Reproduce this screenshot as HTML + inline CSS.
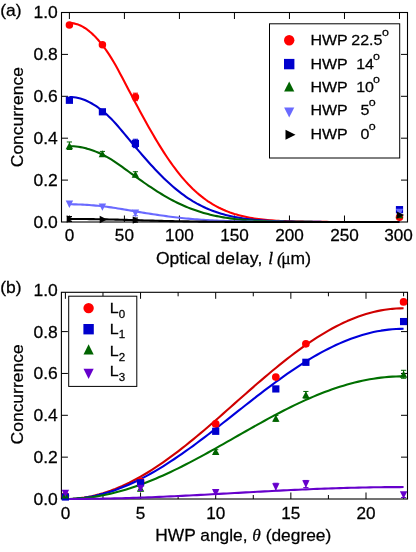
<!DOCTYPE html>
<html lang="en"><head><meta charset="utf-8"><title>Concurrence plots</title>
<style>
html,body{margin:0;padding:0;background:#fff;}
body{width:416px;height:552px;overflow:hidden;}
svg{display:block;}
text{font-family:"Liberation Sans", Arial, Helvetica, sans-serif;font-size:16.5px;fill:#000;stroke:#000;stroke-width:0.25px;}
.lg{font-size:15.1px;}
.it{font-family:"Liberation Serif", "Times New Roman", serif;font-style:italic;}
.sym{font-family:"Liberation Serif", "Times New Roman", serif;}
.sup{font-size:11.8px;}
.sub{font-size:10.9px;}
.ax{stroke:#000;stroke-width:1.1;fill:none;}
.tk{stroke:#000;stroke-width:1;fill:none;}
.cv{fill:none;stroke-width:2.1;stroke-linecap:butt;stroke-linejoin:round;}
.eb{stroke-width:1;fill:none;}
</style></head><body>
<svg width="416" height="552" viewBox="0 0 416 552">
<rect x="0" y="0" width="416" height="552" fill="#fff"/>

<g id="plot-a">
<path class="tk" d="M69.40,222.0v-6.5M69.40,12.5v6.5M124.42,222.0v-6.5M124.42,12.5v6.5M179.43,222.0v-6.5M179.43,12.5v6.5M234.45,222.0v-6.5M234.45,12.5v6.5M289.46,222.0v-6.5M289.46,12.5v6.5M344.48,222.0v-6.5M344.48,12.5v6.5M399.49,222.0v-6.5M399.49,12.5v6.5M61.5,180.10h6.5M407.5,180.10h-6.5M61.5,138.20h6.5M407.5,138.20h-6.5M61.5,96.30h6.5M407.5,96.30h-6.5M61.5,54.40h6.5M407.5,54.40h-6.5"/>
<rect class="ax" x="61.5" y="12.5" width="346.0" height="209.5"/>
<polyline class="cv" stroke="#ff0000" points="69.40,22.98 71.60,23.08 73.80,23.39 76.00,23.90 78.20,24.62 80.40,25.55 82.60,26.67 84.80,27.98 87.00,29.49 89.21,31.19 91.41,33.07 93.61,35.13 95.81,37.36 98.01,39.77 100.21,42.34 102.41,45.09 104.61,48.00 106.81,51.10 109.01,54.37 111.21,57.84 113.41,61.49 115.61,65.32 117.81,69.30 120.01,73.40 122.21,77.56 124.42,81.76 126.62,85.97 128.82,90.17 131.02,94.35 133.22,98.52 135.42,102.67 137.62,106.80 139.82,110.89 142.02,114.96 144.22,118.98 146.42,122.97 148.62,126.90 150.82,130.78 153.02,134.60 155.22,138.36 157.42,142.04 159.62,145.65 161.83,149.18 164.03,152.63 166.23,155.98 168.43,159.25 170.63,162.42 172.83,165.50 175.03,168.47 177.23,171.35 179.43,174.13 181.63,176.81 183.83,179.39 186.03,181.86 188.23,184.24 190.43,186.51 192.63,188.69 194.83,190.77 197.03,192.75 199.24,194.64 201.44,196.43 203.64,198.13 205.84,199.75 208.04,201.28 210.24,202.73 212.44,204.09 214.64,205.38 216.84,206.59 219.04,207.74 221.24,208.81 223.44,209.81 225.64,210.75 227.84,211.63 230.04,212.46 232.24,213.22 234.45,213.94 236.65,214.60 238.85,215.22 241.05,215.79 243.25,216.33 245.45,216.82 247.65,217.27 249.85,217.69 252.05,218.08 254.25,218.43 256.45,218.76 258.65,219.06 260.85,219.34 263.05,219.59 265.25,219.82 267.45,220.03 269.65,220.23 271.86,220.40 274.06,220.56 276.26,220.71 278.46,220.84 280.66,220.96 282.86,221.07 285.06,221.17 287.26,221.25 289.46,221.33 291.66,221.41 293.86,221.47 296.06,221.53 298.26,221.58 300.46,221.63 302.66,221.67 304.86,221.71 307.06,221.74 309.27,221.77 311.47,221.80 313.67,221.82 315.87,221.84 318.07,221.86 320.27,221.88 322.47,221.89 324.67,221.91 326.87,221.92 329.07,221.93 331.27,221.94 333.47,221.95 335.67,221.95 337.87,221.96 340.07,221.96 342.27,221.97 344.48,221.97 346.68,221.98 348.88,221.98 351.08,221.98 353.28,221.98 355.48,221.99 357.68,221.99 359.88,221.99 362.08,221.99 364.28,221.99 366.48,221.99 368.68,221.99 370.88,222.00 373.08,222.00 375.28,222.00 377.48,222.00 379.68,222.00 381.89,222.00 384.09,222.00 386.29,222.00 388.49,222.00 390.69,222.00 392.89,222.00 395.09,222.00 397.29,222.00 399.49,222.00"/>
<polyline class="cv" stroke="#0000cd" points="69.40,96.93 71.60,96.99 73.80,97.19 76.00,97.51 78.20,97.96 80.40,98.54 82.60,99.25 84.80,100.08 87.00,101.02 89.21,102.09 91.41,103.27 93.61,104.57 95.81,105.97 98.01,107.48 100.21,109.10 102.41,110.82 104.61,112.66 106.81,114.60 109.01,116.66 111.21,118.84 113.41,121.13 115.61,123.54 117.81,126.04 120.01,128.62 122.21,131.23 124.42,133.87 126.62,136.51 128.82,139.15 131.02,141.78 133.22,144.40 135.42,147.01 137.62,149.60 139.82,152.18 142.02,154.73 144.22,157.26 146.42,159.77 148.62,162.24 150.82,164.68 153.02,167.08 155.22,169.44 157.42,171.75 159.62,174.02 161.83,176.24 164.03,178.40 166.23,180.51 168.43,182.57 170.63,184.56 172.83,186.49 175.03,188.36 177.23,190.17 179.43,191.92 181.63,193.60 183.83,195.22 186.03,196.78 188.23,198.27 190.43,199.70 192.63,201.07 194.83,202.37 197.03,203.62 199.24,204.80 201.44,205.93 203.64,207.00 205.84,208.02 208.04,208.98 210.24,209.89 212.44,210.75 214.64,211.56 216.84,212.32 219.04,213.04 221.24,213.71 223.44,214.34 225.64,214.93 227.84,215.49 230.04,216.00 232.24,216.48 234.45,216.93 236.65,217.35 238.85,217.74 241.05,218.10 243.25,218.43 245.45,218.74 247.65,219.03 249.85,219.29 252.05,219.54 254.25,219.76 256.45,219.96 258.65,220.15 260.85,220.33 263.05,220.49 265.25,220.63 267.45,220.76 269.65,220.89 271.86,221.00 274.06,221.10 276.26,221.19 278.46,221.27 280.66,221.35 282.86,221.41 285.06,221.48 287.26,221.53 289.46,221.58 291.66,221.63 293.86,221.67 296.06,221.70 298.26,221.74 300.46,221.77 302.66,221.79 304.86,221.82 307.06,221.84 309.27,221.86 311.47,221.87 313.67,221.89 315.87,221.90 318.07,221.91 320.27,221.92 322.47,221.93 324.67,221.94 326.87,221.95 329.07,221.96 331.27,221.96 333.47,221.97 335.67,221.97 337.87,221.97 340.07,221.98 342.27,221.98 344.48,221.98 346.68,221.99 348.88,221.99 351.08,221.99 353.28,221.99 355.48,221.99 357.68,221.99 359.88,221.99 362.08,221.99 364.28,222.00 366.48,222.00 368.68,222.00 370.88,222.00 373.08,222.00 375.28,222.00 377.48,222.00 379.68,222.00 381.89,222.00 384.09,222.00 386.29,222.00 388.49,222.00 390.69,222.00 392.89,222.00 395.09,222.00 397.29,222.00 399.49,222.00"/>
<polyline class="cv" stroke="#006400" points="69.40,146.16 71.60,146.20 73.80,146.32 76.00,146.52 78.20,146.79 80.40,147.14 82.60,147.57 84.80,148.07 87.00,148.64 89.21,149.29 91.41,150.01 93.61,150.79 95.81,151.64 98.01,152.56 100.21,153.54 102.41,154.59 104.61,155.70 106.81,156.88 109.01,158.12 111.21,159.45 113.41,160.84 115.61,162.30 117.81,163.82 120.01,165.37 122.21,166.96 124.42,168.56 126.62,170.16 128.82,171.76 131.02,173.36 133.22,174.95 135.42,176.53 137.62,178.10 139.82,179.66 142.02,181.21 144.22,182.74 146.42,184.26 148.62,185.76 150.82,187.24 153.02,188.70 155.22,190.13 157.42,191.53 159.62,192.91 161.83,194.25 164.03,195.56 166.23,196.84 168.43,198.09 170.63,199.30 172.83,200.47 175.03,201.60 177.23,202.70 179.43,203.76 181.63,204.78 183.83,205.76 186.03,206.71 188.23,207.61 190.43,208.48 192.63,209.31 194.83,210.10 197.03,210.85 199.24,211.57 201.44,212.26 203.64,212.91 205.84,213.52 208.04,214.10 210.24,214.66 212.44,215.18 214.64,215.67 216.84,216.13 219.04,216.56 221.24,216.97 223.44,217.36 225.64,217.71 227.84,218.05 230.04,218.36 232.24,218.66 234.45,218.93 236.65,219.18 238.85,219.42 241.05,219.64 243.25,219.84 245.45,220.02 247.65,220.20 249.85,220.36 252.05,220.51 254.25,220.64 256.45,220.77 258.65,220.88 260.85,220.99 263.05,221.08 265.25,221.17 267.45,221.25 269.65,221.32 271.86,221.39 274.06,221.45 276.26,221.51 278.46,221.56 280.66,221.60 282.86,221.64 285.06,221.68 287.26,221.72 289.46,221.75 291.66,221.77 293.86,221.80 296.06,221.82 298.26,221.84 300.46,221.86 302.66,221.87 304.86,221.89 307.06,221.90 309.27,221.91 311.47,221.92 313.67,221.93 315.87,221.94 318.07,221.95 320.27,221.95 322.47,221.96 324.67,221.96 326.87,221.97 329.07,221.97 331.27,221.98 333.47,221.98 335.67,221.98 337.87,221.98 340.07,221.99 342.27,221.99 344.48,221.99 346.68,221.99 348.88,221.99 351.08,221.99 353.28,221.99 355.48,222.00 357.68,222.00 359.88,222.00 362.08,222.00 364.28,222.00 366.48,222.00 368.68,222.00 370.88,222.00 373.08,222.00 375.28,222.00 377.48,222.00 379.68,222.00 381.89,222.00 384.09,222.00 386.29,222.00 388.49,222.00 390.69,222.00 392.89,222.00 395.09,222.00 397.29,222.00 399.49,222.00"/>
<polyline class="cv" stroke="#6a6aff" points="69.40,204.30 71.60,204.31 73.80,204.33 76.00,204.38 78.20,204.44 80.40,204.53 82.60,204.63 84.80,204.74 87.00,204.88 89.21,205.03 91.41,205.20 93.61,205.38 95.81,205.58 98.01,205.79 100.21,206.02 102.41,206.26 104.61,206.52 106.81,206.80 109.01,207.09 111.21,207.40 113.41,207.72 115.61,208.06 117.81,208.42 120.01,208.78 122.21,209.15 124.42,209.53 126.62,209.90 128.82,210.27 131.02,210.65 133.22,211.02 135.42,211.39 137.62,211.75 139.82,212.12 142.02,212.48 144.22,212.84 146.42,213.19 148.62,213.54 150.82,213.89 153.02,214.23 155.22,214.56 157.42,214.89 159.62,215.21 161.83,215.52 164.03,215.83 166.23,216.13 168.43,216.42 170.63,216.70 172.83,216.97 175.03,217.24 177.23,217.50 179.43,217.74 181.63,217.98 183.83,218.21 186.03,218.43 188.23,218.64 190.43,218.84 192.63,219.04 194.83,219.22 197.03,219.40 199.24,219.57 201.44,219.73 203.64,219.88 205.84,220.02 208.04,220.16 210.24,220.29 212.44,220.41 214.64,220.52 216.84,220.63 219.04,220.73 221.24,220.83 223.44,220.92 225.64,221.00 227.84,221.08 230.04,221.15 232.24,221.22 234.45,221.28 236.65,221.34 238.85,221.40 241.05,221.45 243.25,221.50 245.45,221.54 247.65,221.58 249.85,221.62 252.05,221.65 254.25,221.68 256.45,221.71 258.65,221.74 260.85,221.76 263.05,221.79 265.25,221.81 267.45,221.83 269.65,221.84 271.86,221.86 274.06,221.87 276.26,221.88 278.46,221.90 280.66,221.91 282.86,221.92 285.06,221.93 287.26,221.93 289.46,221.94 291.66,221.95 293.86,221.95 296.06,221.96 298.26,221.96 300.46,221.97 302.66,221.97 304.86,221.97 307.06,221.98 309.27,221.98 311.47,221.98 313.67,221.98 315.87,221.99 318.07,221.99 320.27,221.99 322.47,221.99 324.67,221.99 326.87,221.99 329.07,221.99 331.27,221.99 333.47,222.00 335.67,222.00 337.87,222.00 340.07,222.00 342.27,222.00 344.48,222.00 346.68,222.00 348.88,222.00 351.08,222.00 353.28,222.00 355.48,222.00 357.68,222.00 359.88,222.00 362.08,222.00 364.28,222.00 366.48,222.00 368.68,222.00 370.88,222.00 373.08,222.00 375.28,222.00 377.48,222.00 379.68,222.00 381.89,222.00 384.09,222.00 386.29,222.00 388.49,222.00 390.69,222.00 392.89,222.00 395.09,222.00 397.29,222.00 399.49,222.00"/>
<polyline class="cv" stroke="#000000" points="69.40,218.96 71.60,218.96 73.80,218.97 76.00,218.98 78.20,218.99 80.40,219.00 82.60,219.02 84.80,219.04 87.00,219.06 89.21,219.09 91.41,219.12 93.61,219.15 95.81,219.18 98.01,219.22 100.21,219.26 102.41,219.30 104.61,219.34 106.81,219.39 109.01,219.44 111.21,219.49 113.41,219.55 115.61,219.61 117.81,219.67 120.01,219.73 122.21,219.80 124.42,219.86 126.62,219.92 128.82,219.99 131.02,220.05 133.22,220.12 135.42,220.18 137.62,220.24 139.82,220.30 142.02,220.37 144.22,220.43 146.42,220.49 148.62,220.55 150.82,220.61 153.02,220.67 155.22,220.72 157.42,220.78 159.62,220.83 161.83,220.89 164.03,220.94 166.23,220.99 168.43,221.04 170.63,221.09 172.83,221.14 175.03,221.18 177.23,221.23 179.43,221.27 181.63,221.31 183.83,221.35 186.03,221.39 188.23,221.42 190.43,221.46 192.63,221.49 194.83,221.52 197.03,221.55 199.24,221.58 201.44,221.61 203.64,221.64 205.84,221.66 208.04,221.68 210.24,221.71 212.44,221.73 214.64,221.75 216.84,221.76 219.04,221.78 221.24,221.80 223.44,221.81 225.64,221.83 227.84,221.84 230.04,221.85 232.24,221.87 234.45,221.88 236.65,221.89 238.85,221.90 241.05,221.91 243.25,221.91 245.45,221.92 247.65,221.93 249.85,221.93 252.05,221.94 254.25,221.95 256.45,221.95 258.65,221.96 260.85,221.96 263.05,221.96 265.25,221.97 267.45,221.97 269.65,221.97 271.86,221.98 274.06,221.98 276.26,221.98 278.46,221.98 280.66,221.98 282.86,221.99 285.06,221.99 287.26,221.99 289.46,221.99 291.66,221.99 293.86,221.99 296.06,221.99 298.26,221.99 300.46,221.99 302.66,221.99 304.86,222.00 307.06,222.00 309.27,222.00 311.47,222.00 313.67,222.00 315.87,222.00 318.07,222.00 320.27,222.00 322.47,222.00 324.67,222.00 326.87,222.00 329.07,222.00 331.27,222.00 333.47,222.00 335.67,222.00 337.87,222.00 340.07,222.00 342.27,222.00 344.48,222.00 346.68,222.00 348.88,222.00 351.08,222.00 353.28,222.00 355.48,222.00 357.68,222.00 359.88,222.00 362.08,222.00 364.28,222.00 366.48,222.00 368.68,222.00 370.88,222.00 373.08,222.00 375.28,222.00 377.48,222.00 379.68,222.00 381.89,222.00 384.09,222.00 386.29,222.00 388.49,222.00 390.69,222.00 392.89,222.00 395.09,222.00 397.29,222.00 399.49,222.00"/>
<circle cx="69.40" cy="25.07" r="3.75" fill="#ff0000"/>
<circle cx="102.41" cy="44.76" r="3.75" fill="#ff0000"/>
<path class="eb" stroke="#ff0000" d="M135.42,93.16V100.70M132.82,93.16H138.02M132.82,100.70H138.02"/>
<circle cx="135.42" cy="96.93" r="3.75" fill="#ff0000"/>
<circle cx="399.49" cy="217.18" r="3.75" fill="#ff0000"/>
<rect x="65.80" y="96.68" width="7.20" height="7.20" fill="#0000cd"/>
<rect x="98.81" y="108.20" width="7.20" height="7.20" fill="#0000cd"/>
<path class="eb" stroke="#0000cd" d="M135.42,139.25V147.63M132.82,139.25H138.02M132.82,147.63H138.02"/>
<rect x="131.82" y="139.84" width="7.20" height="7.20" fill="#0000cd"/>
<rect x="395.89" y="206.04" width="7.20" height="7.20" fill="#0000cd"/>
<path class="eb" stroke="#006400" d="M69.40,141.97V149.51M66.80,141.97H72.00M66.80,149.51H72.00"/>
<polygon points="69.40,142.23 65.70,149.26 73.10,149.26" fill="#006400"/>
<path class="eb" stroke="#006400" d="M102.41,151.40V156.01M99.81,151.40H105.01M99.81,156.01H105.01"/>
<polygon points="102.41,150.19 98.71,157.22 106.11,157.22" fill="#006400"/>
<path class="eb" stroke="#006400" d="M135.42,171.72V176.75M132.82,171.72H138.02M132.82,176.75H138.02"/>
<polygon points="135.42,170.72 131.72,177.75 139.12,177.75" fill="#006400"/>
<polygon points="399.49,211.15 395.79,218.18 403.19,218.18" fill="#006400"/>
<polygon points="69.40,208.00 65.70,200.60 73.10,200.60" fill="#6a6aff"/>
<polygon points="102.41,210.83 98.71,203.43 106.11,203.43" fill="#6a6aff"/>
<path class="eb" stroke="#6a6aff" d="M135.42,210.69V215.72M132.82,210.69H138.02M132.82,215.72H138.02"/>
<polygon points="135.42,216.90 131.72,209.50 139.12,209.50" fill="#6a6aff"/>
<polygon points="399.49,216.27 395.79,208.87 403.19,208.87" fill="#6a6aff"/>
<path class="eb" stroke="#000000" d="M69.40,216.49V221.52M66.80,216.49H72.00M66.80,221.52H72.00"/>
<polygon points="74.10,219.00 66.70,215.30 66.70,222.70" fill="#000000"/>
<polygon points="107.11,219.49 99.71,215.79 99.71,223.19" fill="#000000"/>
<path class="eb" stroke="#000000" d="M135.42,218.02V222.21M132.82,218.02H138.02M132.82,222.21H138.02"/>
<polygon points="140.12,220.11 132.72,216.41 132.72,223.81" fill="#000000"/>
<polygon points="404.19,215.09 396.79,211.39 396.79,218.79" fill="#000000"/>
<text transform="translate(57.80,227.90) scale(1.06,1)" text-anchor="end">0.0</text>
<text transform="translate(57.80,186.00) scale(1.06,1)" text-anchor="end">0.2</text>
<text transform="translate(57.80,144.10) scale(1.06,1)" text-anchor="end">0.4</text>
<text transform="translate(57.80,102.20) scale(1.06,1)" text-anchor="end">0.6</text>
<text transform="translate(57.80,60.30) scale(1.06,1)" text-anchor="end">0.8</text>
<text transform="translate(57.80,18.40) scale(1.06,1)" text-anchor="end">1.0</text>
<text transform="translate(69.40,241.40) scale(1.06,1)" text-anchor="middle" style="font-size:16.2px">0</text>
<text transform="translate(124.42,241.40) scale(1.06,1)" text-anchor="middle" style="font-size:16.2px">50</text>
<text transform="translate(179.43,241.40) scale(1.06,1)" text-anchor="middle" style="font-size:16.2px">100</text>
<text transform="translate(234.45,241.40) scale(1.06,1)" text-anchor="middle" style="font-size:16.2px">150</text>
<text transform="translate(289.46,241.40) scale(1.06,1)" text-anchor="middle" style="font-size:16.2px">200</text>
<text transform="translate(344.48,241.40) scale(1.06,1)" text-anchor="middle" style="font-size:16.2px">250</text>
<text transform="translate(398.49,241.40) scale(1.06,1)" text-anchor="middle" style="font-size:16.2px">300</text>
<text transform="translate(0.20,15.50) scale(1.06,1)">(a)</text>
<text transform="translate(23.40,117.20) rotate(-90) scale(1.06,1)" text-anchor="middle">Concurrence</text>
<text transform="translate(156.00,263.80) scale(1.06,1)">Optical <tspan letter-spacing="0.33">delay,</tspan> <tspan class="it" dx="0.6">l</tspan> <tspan class="it" dx="-1.0">(</tspan><tspan class="sym" dx="-1.5">μ</tspan>m)</text>
<rect x="269.5" y="23.8" width="130.2" height="134.2" fill="#fff" stroke="#000" stroke-width="1"/>
<circle cx="289.20" cy="40.30" r="5.20" fill="#ff0000"/>
<text transform="translate(310.40,45.10) scale(1.06,1)" class="lg">HWP</text><text transform="translate(351.30,45.10) scale(1.06,1)" class="lg">22.5</text><text transform="translate(382.00,36.10) scale(1.06,1)" class="sup">o</text>
<rect x="284.00" y="58.90" width="10.40" height="10.40" fill="#0000cd"/>
<text transform="translate(310.40,68.50) scale(1.06,1)" class="lg">HWP</text><text transform="translate(356.20,68.50) scale(1.06,1)" class="lg">14</text><text transform="translate(372.90,59.50) scale(1.06,1)" class="sup">o</text>
<polygon points="289.20,81.60 284.10,91.60 294.30,91.60" fill="#006400"/>
<text transform="translate(310.40,92.00) scale(1.06,1)" class="lg">HWP</text><text transform="translate(356.20,92.00) scale(1.06,1)" class="lg">10</text><text transform="translate(372.90,83.00) scale(1.06,1)" class="sup">o</text>
<polygon points="289.20,117.50 284.10,107.50 294.30,107.50" fill="#6a6aff"/>
<text transform="translate(310.40,115.30) scale(1.06,1)" class="lg">HWP</text><text transform="translate(360.60,115.30) scale(1.06,1)" class="lg">5</text><text transform="translate(368.70,106.30) scale(1.06,1)" class="sup">o</text>
<polygon points="295.50,134.70 285.50,129.70 285.50,139.70" fill="#000000"/>
<text transform="translate(310.40,138.80) scale(1.06,1)" class="lg">HWP</text><text transform="translate(360.60,138.80) scale(1.06,1)" class="lg">0</text><text transform="translate(368.70,129.80) scale(1.06,1)" class="sup">o</text>
</g>
<g id="plot-b">
<path class="tk" d="M65.40,499.0v-6.5M65.40,292.3v6.5M102.97,499.0v-4M102.97,292.3v4M140.55,499.0v-6.5M140.55,292.3v6.5M178.12,499.0v-4M178.12,292.3v4M215.70,499.0v-6.5M215.70,292.3v6.5M253.28,499.0v-4M253.28,292.3v4M290.85,499.0v-6.5M290.85,292.3v6.5M328.42,499.0v-4M328.42,292.3v4M366.00,499.0v-6.5M366.00,292.3v6.5M403.58,499.0v-4M403.58,292.3v4M61.4,457.15h6.5M407.5,457.15h-6.5M61.4,415.30h6.5M407.5,415.30h-6.5M61.4,373.45h6.5M407.5,373.45h-6.5M61.4,331.60h6.5M407.5,331.60h-6.5"/>
<rect class="ax" x="61.4" y="292.3" width="346.1" height="206.7"/>
<polyline class="cv" stroke="#cf0000" points="65.40,499.00 69.16,498.94 72.92,498.77 76.67,498.48 80.43,498.07 84.19,497.55 87.95,496.92 91.70,496.17 95.46,495.31 99.22,494.33 102.97,493.25 106.73,492.06 110.49,490.76 114.25,489.35 118.00,487.84 121.76,486.23 125.52,484.51 129.28,482.70 133.03,480.79 136.79,478.79 140.55,476.69 144.31,474.51 148.06,472.24 151.82,469.89 155.58,467.45 159.34,464.94 163.09,462.36 166.85,459.70 170.61,456.97 174.37,454.18 178.12,451.33 181.88,448.42 185.64,445.45 189.40,442.44 193.16,439.37 196.91,436.27 200.67,433.12 204.43,429.94 208.19,426.72 211.94,423.48 215.70,420.21 219.46,416.92 223.22,413.62 226.97,410.31 230.73,406.98 234.49,403.66 238.25,400.33 242.00,397.00 245.76,393.69 249.52,390.39 253.28,387.10 257.03,383.83 260.79,380.59 264.55,377.37 268.31,374.19 272.06,371.05 275.82,367.94 279.58,364.88 283.34,361.86 287.09,358.89 290.85,355.98 294.61,353.13 298.37,350.34 302.12,347.61 305.88,344.96 309.64,342.37 313.39,339.86 317.15,337.42 320.91,335.07 324.67,332.80 328.42,330.62 332.18,328.52 335.94,326.52 339.70,324.61 343.46,322.80 347.21,321.08 350.97,319.47 354.73,317.96 358.49,316.55 362.24,315.25 366.00,314.06 369.76,312.98 373.51,312.00 377.27,311.14 381.03,310.39 384.79,309.76 388.54,309.24 392.30,308.83 396.06,308.54 399.82,308.37 403.58,308.31"/>
<polyline class="cv" stroke="#0000dc" points="65.40,499.00 69.16,498.95 72.92,498.79 76.67,498.53 80.43,498.17 84.19,497.71 87.95,497.14 91.70,496.47 95.46,495.70 99.22,494.83 102.97,493.87 106.73,492.80 110.49,491.64 114.25,490.39 118.00,489.04 121.76,487.60 125.52,486.07 129.28,484.45 133.03,482.75 136.79,480.96 140.55,479.09 144.31,477.14 148.06,475.12 151.82,473.01 155.58,470.84 159.34,468.60 163.09,466.29 166.85,463.92 170.61,461.49 174.37,459.00 178.12,456.45 181.88,453.85 185.64,451.20 189.40,448.51 193.16,445.78 196.91,443.00 200.67,440.20 204.43,437.36 208.19,434.49 211.94,431.59 215.70,428.68 219.46,425.74 223.22,422.79 226.97,419.83 230.73,416.87 234.49,413.90 238.25,410.93 242.00,407.96 245.76,405.00 249.52,402.05 253.28,399.12 257.03,396.20 260.79,393.31 264.55,390.44 268.31,387.60 272.06,384.79 275.82,382.02 279.58,379.28 283.34,376.59 287.09,373.95 290.85,371.35 294.61,368.80 298.37,366.31 302.12,363.88 305.88,361.50 309.64,359.20 313.39,356.95 317.15,354.78 320.91,352.68 324.67,350.65 328.42,348.71 332.18,346.84 335.94,345.05 339.70,343.35 343.46,341.73 347.21,340.20 350.97,338.76 354.73,337.41 358.49,336.15 362.24,334.99 366.00,333.93 369.76,332.96 373.51,332.09 377.27,331.32 381.03,330.66 384.79,330.09 388.54,329.62 392.30,329.26 396.06,329.00 399.82,328.85 403.58,328.80"/>
<polyline class="cv" stroke="#007000" points="65.40,499.00 69.16,498.96 72.92,498.85 76.67,498.66 80.43,498.40 84.19,498.07 87.95,497.66 91.70,497.18 95.46,496.62 99.22,496.00 102.97,495.30 106.73,494.53 110.49,493.70 114.25,492.79 118.00,491.82 121.76,490.78 125.52,489.68 129.28,488.51 133.03,487.28 136.79,486.00 140.55,484.65 144.31,483.24 148.06,481.78 151.82,480.27 155.58,478.70 159.34,477.09 163.09,475.42 166.85,473.71 170.61,471.96 174.37,470.16 178.12,468.33 181.88,466.46 185.64,464.55 189.40,462.61 193.16,460.64 196.91,458.64 200.67,456.61 204.43,454.57 208.19,452.50 211.94,450.41 215.70,448.31 219.46,446.20 223.22,444.07 226.97,441.94 230.73,439.80 234.49,437.66 238.25,435.52 242.00,433.38 245.76,431.25 249.52,429.12 253.28,427.01 257.03,424.90 260.79,422.82 264.55,420.75 268.31,418.70 272.06,416.68 275.82,414.68 279.58,412.71 283.34,410.77 287.09,408.86 290.85,406.99 294.61,405.15 298.37,403.36 302.12,401.60 305.88,399.89 309.64,398.23 313.39,396.61 317.15,395.05 320.91,393.53 324.67,392.07 328.42,390.67 332.18,389.32 335.94,388.03 339.70,386.80 343.46,385.64 347.21,384.53 350.97,383.50 354.73,382.52 358.49,381.62 362.24,380.78 366.00,380.02 369.76,379.32 373.51,378.69 377.27,378.14 381.03,377.66 384.79,377.25 388.54,376.91 392.30,376.65 396.06,376.47 399.82,376.35 403.58,376.32"/>
<polyline class="cv" stroke="#6600cc" points="65.40,499.00 69.16,499.00 72.92,498.99 76.67,498.97 80.43,498.94 84.19,498.91 87.95,498.87 91.70,498.82 95.46,498.77 99.22,498.71 102.97,498.64 106.73,498.57 110.49,498.48 114.25,498.40 118.00,498.30 121.76,498.20 125.52,498.09 129.28,497.98 133.03,497.86 136.79,497.74 140.55,497.60 144.31,497.47 148.06,497.33 151.82,497.18 155.58,497.03 159.34,496.87 163.09,496.71 166.85,496.54 170.61,496.37 174.37,496.20 178.12,496.02 181.88,495.84 185.64,495.65 189.40,495.46 193.16,495.27 196.91,495.08 200.67,494.88 204.43,494.68 208.19,494.48 211.94,494.28 215.70,494.07 219.46,493.87 223.22,493.66 226.97,493.45 230.73,493.24 234.49,493.04 238.25,492.83 242.00,492.62 245.76,492.41 249.52,492.21 253.28,492.00 257.03,491.80 260.79,491.59 264.55,491.39 268.31,491.19 272.06,491.00 275.82,490.80 279.58,490.61 283.34,490.42 287.09,490.24 290.85,490.05 294.61,489.88 298.37,489.70 302.12,489.53 305.88,489.36 309.64,489.20 313.39,489.05 317.15,488.89 320.91,488.75 324.67,488.60 328.42,488.47 332.18,488.34 335.94,488.21 339.70,488.09 343.46,487.98 347.21,487.87 350.97,487.77 354.73,487.68 358.49,487.59 362.24,487.51 366.00,487.43 369.76,487.36 373.51,487.30 377.27,487.25 381.03,487.20 384.79,487.16 388.54,487.13 392.30,487.11 396.06,487.09 399.82,487.08 403.58,487.07"/>
<circle cx="65.40" cy="495.86" r="3.85" fill="#ff0000"/>
<circle cx="140.55" cy="481.42" r="3.85" fill="#ff0000"/>
<circle cx="215.70" cy="423.88" r="3.85" fill="#ff0000"/>
<circle cx="275.82" cy="377.11" r="3.85" fill="#ff0000"/>
<circle cx="305.88" cy="343.80" r="3.85" fill="#ff0000"/>
<circle cx="403.58" cy="301.89" r="3.85" fill="#ff0000"/>
<rect x="61.80" y="493.39" width="7.20" height="7.20" fill="#0000cd"/>
<rect x="136.95" y="479.18" width="7.20" height="7.20" fill="#0000cd"/>
<rect x="212.10" y="427.69" width="7.20" height="7.20" fill="#0000cd"/>
<rect x="272.22" y="385.33" width="7.20" height="7.20" fill="#0000cd"/>
<rect x="302.28" y="358.70" width="7.20" height="7.20" fill="#0000cd"/>
<rect x="399.98" y="317.96" width="7.20" height="7.20" fill="#0000cd"/>
<polygon points="65.40,491.51 61.70,498.54 69.10,498.54" fill="#006400"/>
<path class="eb" stroke="#006400" d="M140.55,485.82V490.84M137.95,485.82H143.15M137.95,490.84H143.15"/>
<polygon points="140.55,484.81 136.85,491.84 144.25,491.84" fill="#006400"/>
<path class="eb" stroke="#006400" d="M215.70,449.72V453.07M213.10,449.72H218.30M213.10,453.07H218.30"/>
<polygon points="215.70,447.88 212.00,454.91 219.40,454.91" fill="#006400"/>
<path class="eb" stroke="#006400" d="M275.82,415.40V421.26M273.22,415.40H278.42M273.22,421.26H278.42"/>
<polygon points="275.82,414.82 272.12,421.85 279.52,421.85" fill="#006400"/>
<path class="eb" stroke="#006400" d="M305.88,391.45V398.14M303.28,391.45H308.48M303.28,398.14H308.48"/>
<polygon points="305.88,391.28 302.18,398.31 309.58,398.31" fill="#006400"/>
<path class="eb" stroke="#006400" d="M403.58,370.31V378.26M400.98,370.31H406.18M400.98,378.26H406.18"/>
<polygon points="403.58,370.77 399.88,377.80 407.28,377.80" fill="#006400"/>
<polygon points="65.40,497.11 61.70,489.71 69.10,489.71" fill="#6600cc"/>
<path class="eb" stroke="#6600cc" d="M140.55,486.24V490.42M137.95,486.24H143.15M137.95,490.42H143.15"/>
<polygon points="140.55,492.03 136.85,484.63 144.25,484.63" fill="#6600cc"/>
<path class="eb" stroke="#6600cc" d="M215.70,491.05V494.40M213.10,491.05H218.30M213.10,494.40H218.30"/>
<polygon points="215.70,496.42 212.00,489.02 219.40,489.02" fill="#6600cc"/>
<path class="eb" stroke="#6600cc" d="M275.82,483.24V490.78M273.22,483.24H278.42M273.22,490.78H278.42"/>
<polygon points="275.82,490.71 272.12,483.31 279.52,483.31" fill="#6600cc"/>
<path class="eb" stroke="#6600cc" d="M305.88,480.44V487.55M303.28,480.44H308.48M303.28,487.55H308.48"/>
<polygon points="305.88,487.70 302.18,480.30 309.58,480.30" fill="#6600cc"/>
<path class="eb" stroke="#6600cc" d="M403.58,492.51V497.54M400.98,492.51H406.18M400.98,497.54H406.18"/>
<polygon points="403.58,498.72 399.88,491.32 407.28,491.32" fill="#6600cc"/>
<text transform="translate(57.80,504.90) scale(1.06,1)" text-anchor="end">0.0</text>
<text transform="translate(57.80,463.05) scale(1.06,1)" text-anchor="end">0.2</text>
<text transform="translate(57.80,421.20) scale(1.06,1)" text-anchor="end">0.4</text>
<text transform="translate(57.80,379.35) scale(1.06,1)" text-anchor="end">0.6</text>
<text transform="translate(57.80,337.50) scale(1.06,1)" text-anchor="end">0.8</text>
<text transform="translate(57.80,295.65) scale(1.06,1)" text-anchor="end">1.0</text>
<text transform="translate(65.40,519.00) scale(1.06,1)" text-anchor="middle" style="font-size:16.2px">0</text>
<text transform="translate(140.55,519.00) scale(1.06,1)" text-anchor="middle" style="font-size:16.2px">5</text>
<text transform="translate(215.70,519.00) scale(1.06,1)" text-anchor="middle" style="font-size:16.2px">10</text>
<text transform="translate(290.85,519.00) scale(1.06,1)" text-anchor="middle" style="font-size:16.2px">15</text>
<text transform="translate(366.00,519.00) scale(1.06,1)" text-anchor="middle" style="font-size:16.2px">20</text>
<text transform="translate(0.20,293.40) scale(1.06,1)">(b)</text>
<text transform="translate(23.40,394.40) rotate(-90) scale(1.06,1)" text-anchor="middle">Concurrence</text>
<text transform="translate(155.30,540.80) scale(1.06,1)" style="font-size:16.37px">HWP angle, <tspan class="it">θ</tspan> (degree)</text>
<rect x="68.7" y="296.2" width="68.1" height="90.2" fill="#fff" stroke="#000" stroke-width="1"/>
<circle cx="88.60" cy="308.10" r="5.20" fill="#ff0000"/>
<text transform="translate(109.80,313.00) scale(1.06,1)" class="lg">L<tspan class="sub" dy="4.8">0</tspan></text>
<rect x="83.40" y="324.00" width="10.40" height="10.40" fill="#0000cd"/>
<text transform="translate(109.80,333.60) scale(1.06,1)" class="lg">L<tspan class="sub" dy="4.8">1</tspan></text>
<polygon points="88.60,344.20 83.50,354.40 93.70,354.40" fill="#006400"/>
<text transform="translate(109.80,355.80) scale(1.06,1)" class="lg">L<tspan class="sub" dy="4.8">2</tspan></text>
<polygon points="88.60,379.00 83.50,368.80 93.70,368.80" fill="#6600cc"/>
<text transform="translate(109.80,376.40) scale(1.06,1)" class="lg">L<tspan class="sub" dy="4.8">3</tspan></text>
</g>
</svg></body></html>
